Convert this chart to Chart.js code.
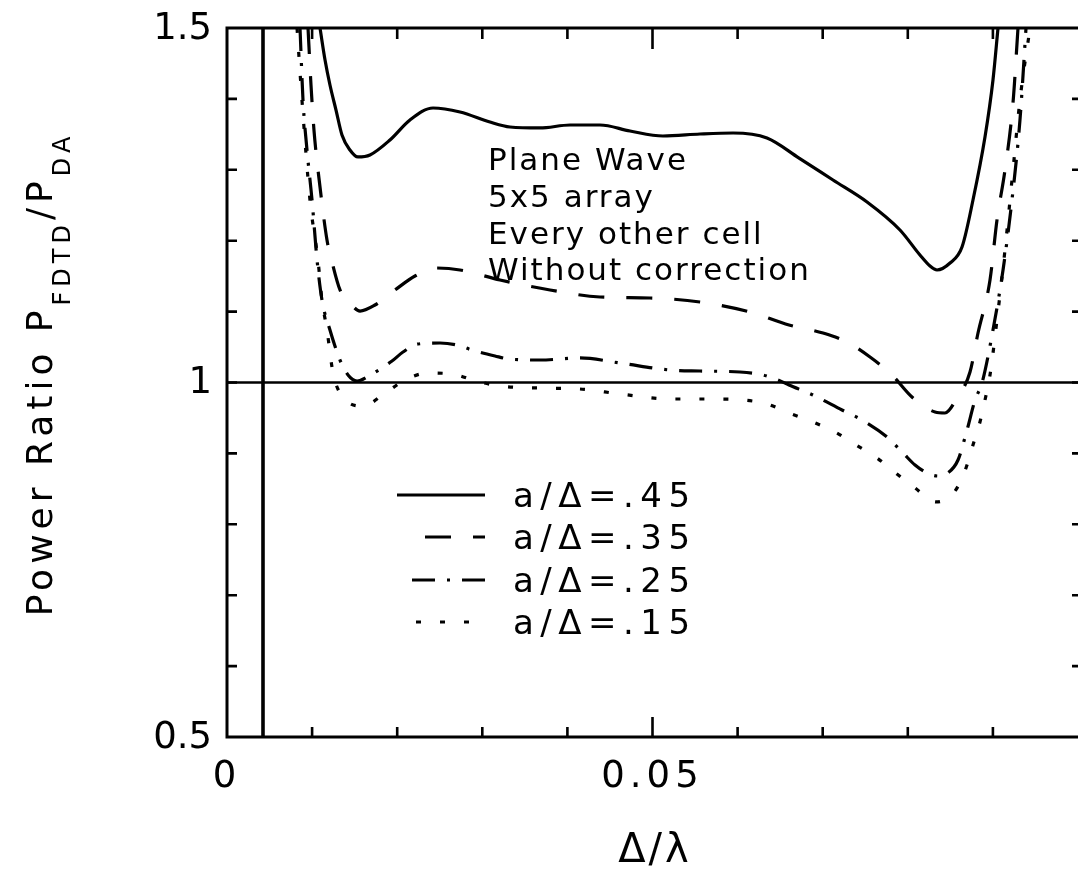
<!DOCTYPE html>
<html><head><meta charset="utf-8">
<script src="https://cdn.jsdelivr.net/npm/chart.js@4.4.1/dist/chart.umd.min.js"></script>
<style>html,body{margin:0;padding:0;background:#fff;overflow:hidden}#wrap{width:1078px;height:883px}</style>
</head><body><div id="wrap"><canvas id="c" width="1078" height="883"></canvas></div>
<script>
const FONT = '"DejaVu Sans", sans-serif';

const seriesLabels = ['a/\u0394=.45', 'a/\u0394=.35', 'a/\u0394=.25', 'a/\u0394=.15'];

const x45 = [0.01093,0.01152,0.01210,0.01281,0.01351,0.01445,0.01539,0.01680,0.01915,0.02150,0.02421,0.02738,0.03090,0.03326,0.03678,0.04031,0.04383,0.04736,0.05123,0.05558,0.05946,0.06345,0.06722,0.07121,0.07521,0.07908,0.08143,0.08261,0.08343,0.08496,0.08637,0.08766,0.08907,0.09001,0.09060];
const y45 = [1.5,1.4549,1.4196,1.3843,1.3491,1.3279,1.3181,1.3209,1.3420,1.3702,1.3872,1.3815,1.3674,1.3604,1.3590,1.3632,1.3632,1.3547,1.3477,1.3505,1.3519,1.3449,1.3166,1.2856,1.2546,1.2151,1.1798,1.1643,1.1587,1.1685,1.1911,1.2574,1.3463,1.4267,1.5];

const x35 = [0.00952,0.00987,0.01022,0.01093,0.01175,0.01234,0.01328,0.01445,0.01563,0.01739,0.01974,0.02209,0.02444,0.02738,0.03208,0.03796,0.04383,0.04971,0.05558,0.06146,0.06604,0.07004,0.07286,0.07556,0.07814,0.08049,0.08320,0.08437,0.08578,0.08731,0.08825,0.08966,0.09048,0.09142,0.09236,0.09295];
const y35 = [1.5,1.4196,1.3561,1.2757,1.2010,1.1700,1.1305,1.1121,1.1008,1.1093,1.1305,1.1502,1.1615,1.1587,1.1446,1.1305,1.1206,1.1192,1.1135,1.0994,1.0811,1.0698,1.0571,1.0360,1.0106,0.9795,0.9584,0.9570,0.9781,1.0148,1.0698,1.1446,1.2292,1.2997,1.3942,1.5];

const x25 = [0.00858,0.00893,0.00940,0.00999,0.01058,0.01116,0.01210,0.01328,0.01422,0.01528,0.01704,0.01939,0.02068,0.02244,0.02503,0.02703,0.02879,0.03149,0.03314,0.03678,0.04148,0.04618,0.05206,0.05558,0.06028,0.06298,0.06475,0.06604,0.06886,0.07227,0.07462,0.07756,0.07944,0.08085,0.08226,0.08355,0.08472,0.08590,0.08696,0.08790,0.08872,0.09001,0.09119,0.09224,0.09318,0.09389];
const y25 = [1.5,1.3984,1.3279,1.2574,1.1728,1.1164,1.0740,1.0317,1.0106,1.0021,1.0120,1.0303,1.0430,1.0543,1.0557,1.0529,1.0458,1.0374,1.0331,1.0317,1.0346,1.0275,1.0176,1.0162,1.0148,1.0106,1.0035,0.9965,0.9824,0.9612,0.9471,0.9231,0.9006,0.8836,0.8724,0.8681,0.8724,0.8907,0.9330,0.9753,0.9993,1.0740,1.1587,1.2574,1.3702,1.5];

const x15 = [0.00823,0.00881,0.00975,0.01069,0.01116,0.01175,0.01246,0.01363,0.01598,0.01845,0.02092,0.02362,0.02644,0.02926,0.03208,0.03678,0.04148,0.04618,0.05206,0.05770,0.06075,0.06345,0.06604,0.06886,0.07145,0.07391,0.07638,0.07873,0.08085,0.08331,0.08555,0.08684,0.08766,0.08848,0.08907,0.08966,0.09048,0.09142,0.09236,0.09318,0.09436];
const y15 = [1.5,1.3984,1.2574,1.1728,1.1164,1.0740,1.0134,0.9795,0.9668,0.9838,1.0035,1.0134,1.0120,1.0021,0.9951,0.9922,0.9908,0.9838,0.9767,0.9767,0.9753,0.9697,0.9570,0.9443,0.9302,0.9119,0.8935,0.8709,0.8512,0.8315,0.8470,0.8794,0.9119,0.9443,0.9753,1.0106,1.0881,1.1869,1.2997,1.3984,1.5];

const refLineX = [0, 0.1];
const refLineY = [1, 1];
const vertLineX = [0.00423, 0.00423];
const vertLineY = [0.5, 1.5];

const xTickValues = [0, 0.05];
const xTickLabels = ['0', '0.05'];
const yTickValues = [0.5, 1, 1.5];
const yTickLabels = ['0.5', '1', '1.5'];
const xMinorTicks = [0.01,0.02,0.03,0.04,0.05,0.06,0.07,0.08,0.09];
const yMinorTicks = [0.6,0.7,0.8,0.9,1.0,1.1,1.2,1.3,1.4];

const annotationLines = ['Plane Wave', '5x5 array', 'Every other cell', 'Without correction'];
const xTitle = '\u0394/\u03bb';
const yTitleParts = [['Power Ratio P', false], ['FDTD', true], ['/P', false], ['DA', true]];

const dashes = [[], [26, 22], [23, 12, 3, 12], [5, 19]];

function pts(xs, ys) { return xs.map((x, i) => ({ x: x, y: ys[i] })); }

const seriesX = [x45, x35, x25, x15];
const seriesY = [y45, y35, y25, y15];

const datasets = seriesLabels.map((lab, i) => ({
  label: lab,
  data: pts(seriesX[i], seriesY[i]),
  borderColor: '#000',
  borderWidth: 3.2,
  borderDash: dashes[i],
  borderCapStyle: 'butt',
  pointRadius: 0,
  showLine: true,
  fill: false,
  cubicInterpolationMode: 'monotone'
}));
datasets.push({ label: 'ref', data: pts(refLineX, refLineY), borderColor: '#000', borderWidth: 2.4, pointRadius: 0, showLine: true, tension: 0 });
datasets.push({ label: 'vert', data: pts(vertLineX, vertLineY), borderColor: '#000', borderWidth: 3.6, pointRadius: 0, showLine: true, tension: 0 });

function spacedText(ctx, text, x, y, spacing) {
  ctx.letterSpacing = spacing + 'px';
  ctx.fillText(text, x, y);
  ctx.letterSpacing = '0px';
}

const decor = {
  id: 'decor',
  beforeDraw(chart) {
    const ctx = chart.ctx;
    ctx.save();
    ctx.fillStyle = '#fff';
    ctx.fillRect(0, 0, chart.width, chart.height);
    ctx.restore();
    ctx.letterSpacing = '5px';
  },
  afterDraw(chart) {
    const ctx = chart.ctx;
    const a = chart.chartArea;
    const xs = chart.scales.x, ys = chart.scales.y;
    ctx.save();
    ctx.letterSpacing = '0px';
    ctx.strokeStyle = '#000';
    ctx.fillStyle = '#000';
    ctx.lineWidth = 3;
    ctx.setLineDash([]);
    ctx.beginPath();
    ctx.moveTo(a.left, a.bottom); ctx.lineTo(a.left, a.top);
    ctx.moveTo(a.left - 1.5, a.top); ctx.lineTo(a.right, a.top);
    ctx.moveTo(a.left - 1.5, a.bottom); ctx.lineTo(a.right, a.bottom);
    ctx.stroke();
    ctx.lineWidth = 2.6;
    ctx.beginPath();
    xMinorTicks.forEach(v => {
      const p = xs.getPixelForValue(v);
      const len = Math.abs(v - 0.05) < 1e-9 ? 20 : 10;
      ctx.moveTo(p, a.bottom); ctx.lineTo(p, a.bottom - len);
      ctx.moveTo(p, a.top); ctx.lineTo(p, a.top + len + 1);
    });
    yMinorTicks.forEach(v => {
      const p = ys.getPixelForValue(v);
      ctx.moveTo(a.left, p); ctx.lineTo(a.left + 10, p);
      ctx.moveTo(a.right, p); ctx.lineTo(a.right - 6, p);
    });
    ctx.stroke();

    // y tick labels from the y scale
    ctx.font = '37px ' + FONT;
    ctx.textAlign = 'right';
    ctx.textBaseline = 'middle';
    ys.ticks.forEach((t, i) => {
      ctx.fillText(yTickLabels[i], a.left - 15, ys.getPixelForValue(t.value) + 1);
    });

    // annotation
    ctx.font = '31px ' + FONT;
    ctx.textAlign = 'left';
    ctx.textBaseline = 'alphabetic';
    const annBase = [170, 207, 244, 280];
    annotationLines.forEach((t, i) => spacedText(ctx, t, 488, annBase[i], 2));

    // legend
    const legY = [495, 537, 580, 622];
    const legX0 = [397, 425, 412, 416];
    const legX1 = [485, 485, 485, 472];
    ctx.font = '34px ' + FONT;
    chart.data.datasets.slice(0, 4).forEach((ds, i) => {
      ctx.lineWidth = 3.2;
      ctx.setLineDash(ds.borderDash);
      ctx.beginPath();
      ctx.moveTo(legX0[i], legY[i]); ctx.lineTo(legX1[i], legY[i]);
      ctx.stroke();
      ctx.setLineDash([]);
      spacedText(ctx, ds.label, 513, legY[i] + 12, 6.5);
    });

    // x title
    ctx.font = '40px ' + FONT;
    ctx.textAlign = 'center';
    spacedText(ctx, xTitle, 655, 862, 3);

    // y title with subscripts
    ctx.translate(52, 374);
    ctx.rotate(-Math.PI / 2);
    ctx.textAlign = 'left';
    const big = '36px ' + FONT, small = '24px ' + FONT;
    ctx.letterSpacing = '5px';
    let total = 0;
    yTitleParts.forEach(([t, sub]) => { ctx.font = sub ? small : big; total += ctx.measureText(t).width; });
    let cx = -total / 2;
    yTitleParts.forEach(([t, sub]) => {
      ctx.font = sub ? small : big;
      ctx.fillText(t, cx, sub ? 18 : 0);
      cx += ctx.measureText(t).width;
    });
    ctx.restore();
  }
};

new Chart(document.getElementById('c'), {
  type: 'scatter',
  data: { datasets: datasets },
  options: {
    responsive: false,
    animation: false,
    devicePixelRatio: 1,
    layout: { padding: { top: 28, right: 0, left: 0, bottom: 0 } },
    plugins: { legend: { display: false }, tooltip: { enabled: false } },
    scales: {
      x: {
        type: 'linear', min: 0, max: 0.1,
        afterBuildTicks: s => { s.ticks = xTickValues.map(v => ({ value: v })); },
        afterFit: s => { s.height = 146; },
        ticks: { callback: (v, i) => xTickLabels[i], font: { size: 37, family: FONT }, color: '#000', padding: 18, maxRotation: 0, autoSkip: false },
        grid: { display: false, drawTicks: false },
        border: { display: false }
      },
      y: {
        type: 'linear', min: 0.5, max: 1.5,
        afterBuildTicks: s => { s.ticks = yTickValues.map(v => ({ value: v })); },
        afterFit: s => { s.width = 227; },
        ticks: { display: false, callback: (v, i) => yTickLabels[i], font: { size: 37, family: FONT }, color: '#000', padding: 10, autoSkip: false },
        grid: { display: false, drawTicks: false },
        border: { display: false }
      }
    }
  },
  plugins: [decor]
});
</script></body></html>
